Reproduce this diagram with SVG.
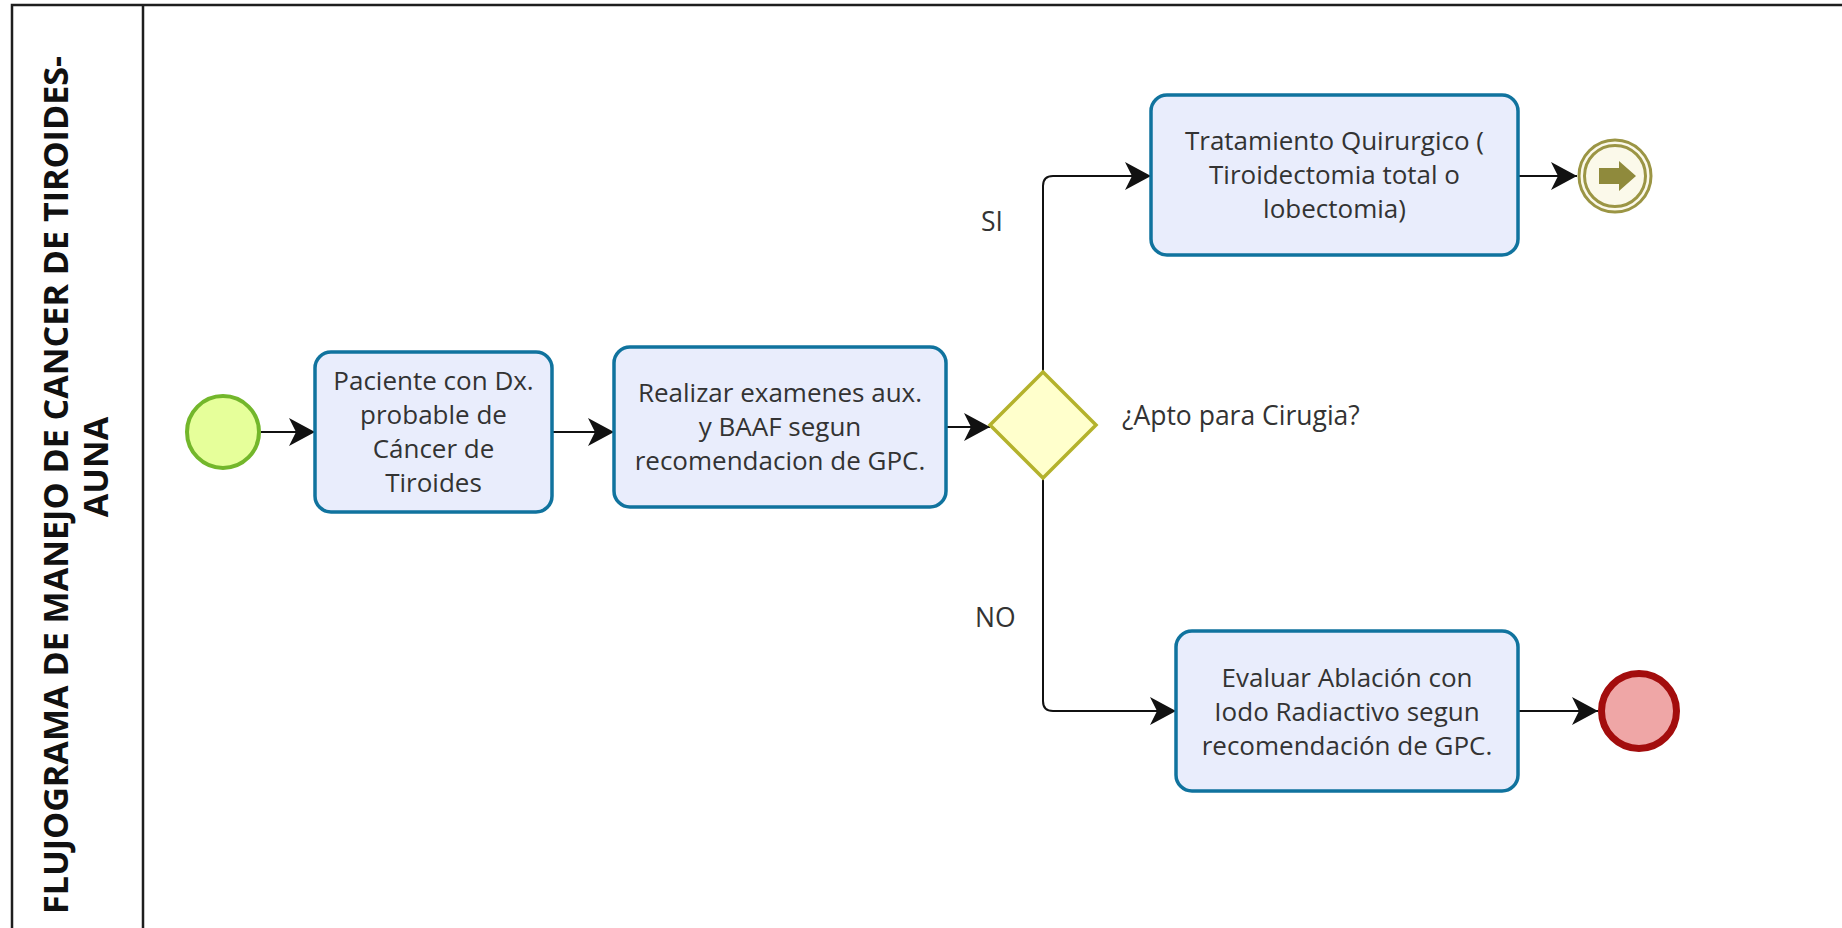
<svg xmlns="http://www.w3.org/2000/svg" width="1842" height="928" viewBox="0 0 1842 928">
<style>
.frame{fill:none;stroke:#1e1e1e;stroke-width:2.5}
.task{fill:#e9edfc;stroke:#10739e;stroke-width:3.5}
.tt{font-family:"Open Sans","Liberation Sans",sans-serif;font-size:26px;fill:#333;text-anchor:middle}
.lbl{font-family:"Open Sans","Liberation Sans",sans-serif;font-size:26.5px;fill:#333}
.title{font-family:"Open Sans","Liberation Sans",sans-serif;font-size:34px;font-weight:bold;fill:#111;text-anchor:middle}
.conn{fill:none;stroke:#111;stroke-width:2}
</style>
<defs>
<marker id="arr" markerUnits="userSpaceOnUse" markerWidth="30" markerHeight="30" refX="26" refY="14" orient="auto">
<path d="M0,0 L26,14 L0,28 L7,14 Z" fill="#111"/>
</marker>
</defs>
<rect width="1842" height="928" fill="#fff"/>
<g id="pool">
<path class="frame" d="M12,930 V5 H1844"/>
<line class="frame" x1="143" y1="5" x2="143" y2="930"/>
<text class="title" transform="rotate(-90)" x="-485" y="68" textLength="858" lengthAdjust="spacingAndGlyphs">FLUJOGRAMA DE MANEJO DE CANCER DE TIROIDES-</text>
<text class="title" transform="rotate(-90)" x="-467" y="108">AUNA</text>
</g>
<g id="connectors">
<path class="conn" d="M261,432 H315" marker-end="url(#arr)"/>
<path class="conn" d="M552,432 H614" marker-end="url(#arr)"/>
<path class="conn" d="M946,427 H990" marker-end="url(#arr)"/>
<path class="conn" d="M1043,372 V186 Q1043,176 1053,176 H1151" marker-end="url(#arr)"/>
<path class="conn" d="M1043,477 V701 Q1043,711 1053,711 H1176" marker-end="url(#arr)"/>
<path class="conn" d="M1518,176 H1577" marker-end="url(#arr)"/>
<path class="conn" d="M1518,711 H1598" marker-end="url(#arr)"/>
<text class="lbl" x="981" y="231">SI</text>
<text class="lbl" x="975" y="627">NO</text>
</g>
<g id="start">
<circle cx="223" cy="432" r="36" fill="#e6ff9a" stroke="#73b72b" stroke-width="4"/>
</g>
<g id="task1">
<rect class="task" x="315" y="352" width="237" height="160" rx="16"/>
<text class="tt" x="433.5" y="390">Paciente con Dx.</text>
<text class="tt" x="433.5" y="424">probable de</text>
<text class="tt" x="433.5" y="458">Cáncer de</text>
<text class="tt" x="433.5" y="492">Tiroides</text>
</g>
<g id="task2">
<rect class="task" x="614" y="347" width="332" height="160" rx="16"/>
<text class="tt" x="780" y="402">Realizar examenes aux.</text>
<text class="tt" x="780" y="436">y BAAF segun</text>
<text class="tt" x="780" y="470">recomendacion de GPC.</text>
</g>
<g id="gateway">
<path d="M1043,372 L1096,425 L1043,478 L990,425 Z" fill="#ffffcc" stroke="#b4b22c" stroke-width="3.5" stroke-linejoin="miter"/>
<text class="lbl" x="1122" y="425">¿Apto para Cirugia?</text>
</g>
<g id="task3">
<rect class="task" x="1151" y="95" width="367" height="160" rx="16"/>
<text class="tt" x="1334.5" y="150">Tratamiento Quirurgico (</text>
<text class="tt" x="1334.5" y="184">Tiroidectomia total o</text>
<text class="tt" x="1334.5" y="218">lobectomia)</text>
</g>
<g id="end-message">
<circle cx="1615" cy="176" r="36" fill="#fbf9ea" stroke="#9b9544" stroke-width="3"/>
<circle cx="1615" cy="176" r="30.5" fill="none" stroke="#9b9544" stroke-width="3"/>
<path d="M1599,168 H1619 V161 L1636,176 L1619,191 V184 H1599 Z" fill="#8f8a3c"/>
</g>
<g id="task4">
<rect class="task" x="1176" y="631" width="342" height="160" rx="16"/>
<text class="tt" x="1347" y="687">Evaluar Ablación con</text>
<text class="tt" x="1347" y="721">Iodo Radiactivo segun</text>
<text class="tt" x="1347" y="755">recomendación de GPC.</text>
</g>
<g id="end">
<circle cx="1639" cy="711" r="37.5" fill="#efa6a6" stroke="#a30d0d" stroke-width="7"/>
</g>
</svg>
